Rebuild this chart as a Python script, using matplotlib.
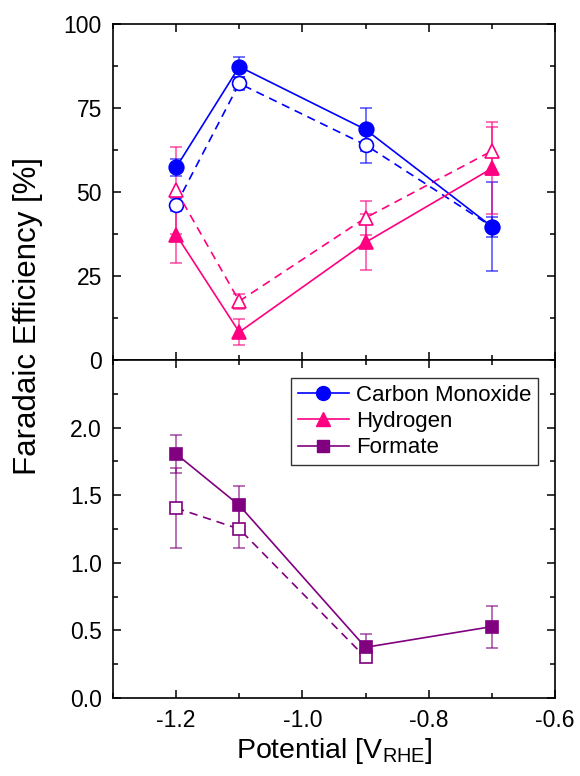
import matplotlib
matplotlib.use("Agg")
import matplotlib.pyplot as plt
from matplotlib.ticker import MultipleLocator
from matplotlib.colors import to_rgba

plt.rcParams['font.family'] = ['Liberation Sans', 'DejaVu Sans']
plt.rcParams['mathtext.fontset'] = 'custom'
plt.rcParams['mathtext.rm'] = 'Liberation Sans'

# potentials vs RHE
potential = [-1.2, -1.1, -0.9, -0.7]
potential_formate_open = [-1.2, -1.1, -0.9]

# faradaic efficiencies [%], filled = solid line, open = dashed line
co_fe = [57.3, 87.3, 68.6, 39.7]
co_err = [2.5, 3.0, 6.5, 13.3]
co_fe_open = [46.2, 82.3, 64.0, 39.7]
co_err_open = [2.0, 2.0, 5.4, 3.0]

h2_fe = [37.3, 8.3, 35.0, 57.0]
h2_err = [8.3, 3.8, 8.3, 13.7]
h2_fe_open = [50.5, 17.5, 42.3, 62.2]
h2_err_open = [13.0, 2.2, 5.0, 7.2]

formate_fe = [1.805, 1.425, 0.375, 0.528]
formate_err = [0.14, 0.145, 0.10, 0.155]
formate_fe_open = [1.405, 1.25, 0.30]
formate_err_open = [0.295, 0.14, 0.03]

BLUE = '#0000ff'
PINK = '#ff0080'
PURPLE = '#800080'

fig = plt.figure(figsize=(5.8, 7.76), dpi=100)
ax_top = fig.add_axes([0.1948, 0.5361, 0.762, 0.4330])
ax_bot = fig.add_axes([0.1948, 0.1005, 0.762, 0.4356])


def series(ax, x, y, err, color, marker, ms, filled, label=None):
    ecol = to_rgba(color, 0.65)
    ax.errorbar(x, y, yerr=err, color=color, ecolor=ecol, elinewidth=1.2,
                capsize=4, capthick=1.2, marker=marker, markersize=ms,
                markerfacecolor=color if filled else 'white',
                markeredgecolor=color, markeredgewidth=1.2,
                linestyle='-' if filled else (0, (5, 3.5)), linewidth=1.2,
                label=label)


series(ax_top, potential, co_fe_open, co_err_open, BLUE, 'o', 10, False)
series(ax_top, potential, h2_fe_open, h2_err_open, PINK, '^', 10, False)
series(ax_top, potential, co_fe, co_err, BLUE, 'o', 10.5, True)
series(ax_top, potential, h2_fe, h2_err, PINK, '^', 10.5, True)

series(ax_bot, potential_formate_open, formate_fe_open, formate_err_open, PURPLE, 's', 9, False)
series(ax_bot, potential, formate_fe, formate_err, PURPLE, 's', 9, True)

# legend entries
ax_bot.plot([], [], color=BLUE, marker='o', markersize=10, lw=1.2, label='Carbon Monoxide')
ax_bot.plot([], [], color=PINK, marker='^', markersize=10, lw=1.2, label='Hydrogen')
ax_bot.plot([], [], color=PURPLE, marker='s', markersize=9, lw=1.2, label='Formate')
handles, labels = ax_bot.get_legend_handles_labels()
leg = ax_bot.legend(handles[-3:], labels[-3:], loc='upper right',
                    bbox_to_anchor=(0.962, 0.948), fontsize=16, frameon=True,
                    fancybox=False, edgecolor='#333333', framealpha=1,
                    handlelength=2.3, handletextpad=0.3, borderpad=0.32,
                    labelspacing=0.24, borderaxespad=0)
leg.get_frame().set_linewidth(1.0)

for ax in (ax_top, ax_bot):
    ax.set_xlim(-1.3, -0.6)
    ax.xaxis.set_major_locator(MultipleLocator(0.2))
    ax.xaxis.set_minor_locator(MultipleLocator(0.1))
    ax.tick_params(which='both', direction='in', top=True, right=True,
                   labelsize=16.5, width=1.1, pad=8)
    ax.tick_params(which='major', length=6)
    ax.tick_params(which='minor', length=3.5)
    for sp in ax.spines.values():
        sp.set_linewidth(1.2)

ax_top.set_ylim(0, 100)
ax_top.yaxis.set_major_locator(MultipleLocator(25))
ax_top.yaxis.set_minor_locator(MultipleLocator(12.5))
ax_top.tick_params(labelbottom=False)

ax_bot.set_ylim(0, 2.5)
ax_bot.set_yticks([0.0, 0.5, 1.0, 1.5, 2.0])
ax_bot.set_yticklabels(['0.0', '0.5', '1.0', '1.5', '2.0'])
ax_bot.yaxis.set_minor_locator(MultipleLocator(0.25))
ax_bot.set_xticks([-1.2, -1.0, -0.8, -0.6])
ax_bot.set_xticklabels(['-1.2', '-1.0', '-0.8', '-0.6'])

ax_bot.set_xlabel(r'Potential [V$_\mathregular{RHE}$]', fontsize=20.5, labelpad=3)
fig.text(0.048, 0.593, 'Faradaic Efficiency [%]', rotation=90, fontsize=22.5,
         ha='center', va='center')

fig.savefig('out.png', dpi=100)
